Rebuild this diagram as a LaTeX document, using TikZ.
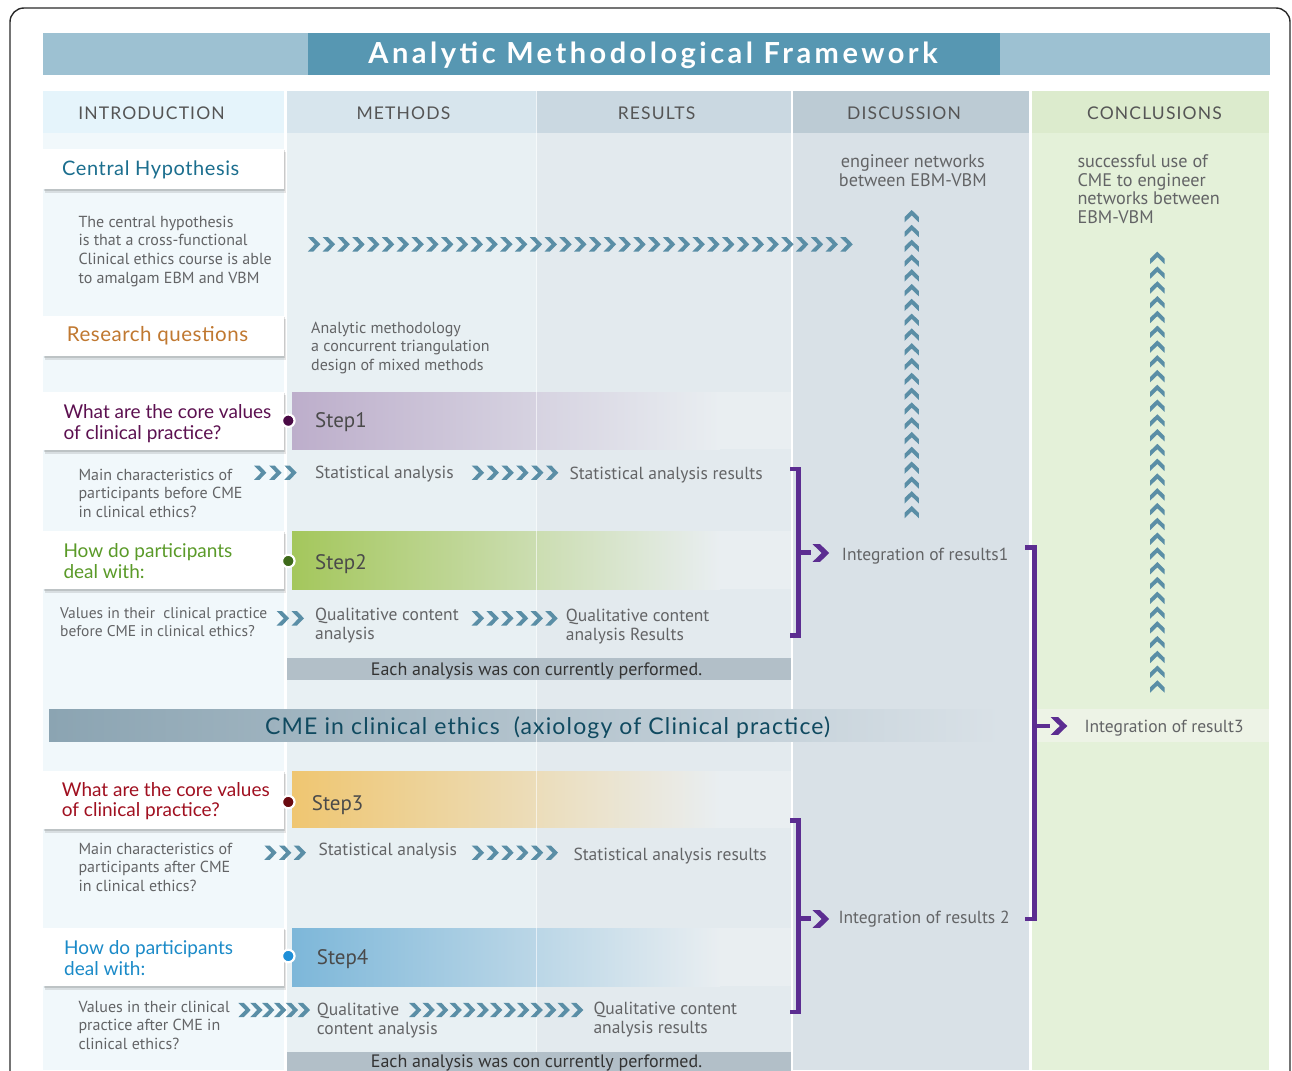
\documentclass[tikz,border=0pt]{standalone}
\usepackage{fontspec}
\setmainfont{PT Sans}
\newfontfamily\gill{Lato}
\newfontfamily\gillA{Lato}[LetterSpace=3]
\newfontfamily\gillH{Lato}[LetterSpace=6.5]
\newfontfamily\gillB{Lato}[LetterSpace=2.5]
\newfontfamily\gillT{Lato}[LetterSpace=5]
\newfontfamily\gillTT{Lato}[LetterSpace=12]
\usetikzlibrary{decorations.markings}
\definecolor{ttlA}{HTML}{9DC1D2}
\definecolor{ttlB}{HTML}{5797B2}
\definecolor{hI}{HTML}{E5F4FB}
\definecolor{hM}{HTML}{D7E5ED}
\definecolor{hR}{HTML}{CAD8E1}
\definecolor{hD}{HTML}{BCCBD4}
\definecolor{hC}{HTML}{DCEBCD}
\definecolor{bI}{HTML}{F1F8FB}
\definecolor{bM}{HTML}{E8F0F3}
\definecolor{bR}{HTML}{E3EAEE}
\definecolor{bD}{HTML}{D9E1E7}
\definecolor{bC}{HTML}{E4F1D9}
\definecolor{stripC}{HTML}{EDF3E6}
\definecolor{hdr}{HTML}{555555}
\definecolor{tgray}{HTML}{636466}
\definecolor{sgray}{HTML}{4A4A4A}
\definecolor{chevc}{HTML}{5A8EA6}
\definecolor{purp}{HTML}{5C2D91}
\definecolor{cH}{HTML}{1B6E8E}
\definecolor{cRQ}{HTML}{C07830}
\definecolor{cQa}{HTML}{5C1050}
\definecolor{cQb}{HTML}{5A9A28}
\definecolor{cQc}{HTML}{A01020}
\definecolor{cQd}{HTML}{1A8AC8}
\definecolor{dA}{HTML}{4A0A45}
\definecolor{dB}{HTML}{3E6A1A}
\definecolor{dC}{HTML}{6A0A10}
\definecolor{dD}{HTML}{1E8FD8}
\definecolor{sA}{HTML}{BDAECB}
\definecolor{sB}{HTML}{A4C75C}
\definecolor{sC}{HTML}{EFC671}
\definecolor{sD}{HTML}{7DB7D9}
\definecolor{barend}{HTML}{E9EEF1}
\definecolor{cmeL}{HTML}{8BA4B2}
\definecolor{cmeT}{HTML}{104A60}
\definecolor{gbar}{HTML}{B2BFC8}
\definecolor{frm}{HTML}{2A2A2A}
\newcommand\mlines[1]{\begin{tabular}[t]{@{}l@{}}#1\end{tabular}}
\newcommand\clines[1]{\begin{tabular}[t]{@{}c@{}}#1\end{tabular}}
\tikzset{
  txt/.style={anchor=base west, inner sep=0pt, text=tgray},
  fa/.style={font=\fontsize{16}{18.6}\selectfont},
  fb/.style={font=\fontsize{17.5}{19}\selectfont},
  hdrtxt/.style={anchor=base, inner sep=0pt, text=hdr, font=\gillH\fontsize{17.5}{19}\selectfont},
  qtxt/.style={anchor=base west, inner sep=0pt, font=\gill\fontsize{19}{20.7}\selectfont},
  steptxt/.style={anchor=base west, inner sep=0pt, text=sgray, font=\fontsize{21}{22}\selectfont},
  dotn/.style={circle, fill=#1, draw=white, line width=2.2pt, minimum size=12.5pt, inner sep=0pt},
  chain/.style={decoration={markings, mark=between positions 0 and 1 step #1 with {\fill[chevc] (-6.2,-7.2) -- (-0.8,-7.2) -- (6.2,0) -- (-0.8,7.2) -- (-6.2,7.2) -- (0.8,0) -- cycle;}}, decorate},
  brk/.style={draw=purp, line width=4.6pt, line cap=butt, line join=miter},
  pchev/.pic={\fill[purp] (0,-8.8) -- (7.5,-8.8) -- (16.6,0) -- (7.5,8.8) -- (0,8.8) -- (9.1,0) -- cycle;}
}
\begin{document}
\begin{tikzpicture}[x=1pt,y=-1pt]
\useasboundingbox (0,0) rectangle (1292,1070);
\fill[white] (0,0) rectangle (1292,1070);
\clip (0,0) rectangle (1292,1070);
% frame
\draw[frm, line width=1.4pt, rounded corners=14pt] (10,1100) -- (10,8) -- (1290,8) -- (1290,1100);
% title
\fill[ttlA] (43,33) rectangle (1270,75);
\fill[ttlB] (308,33) rectangle (1000,75);
\node[anchor=base, inner sep=0pt, text=white, font=\gillTT\bfseries\fontsize{29}{31}\selectfont] (title) at (653,63.3) {Analytic Methodological Framework};
% columns
\fill[hI] (43,91) rectangle (283.5,133);
\fill[bI] (43,133) rectangle (283.5,1070);
\fill[hM] (287,91) rectangle (536.6,133);
\fill[bM] (287,133) rectangle (536.6,1070);
\fill[hR] (536.6,91) rectangle (791,133);
\fill[bR] (536.6,133) rectangle (791,1070);
\fill[hD] (792.5,91) rectangle (1028.7,133);
\fill[bD] (792.5,133) rectangle (1028.7,1070);
\fill[hC] (1031.5,91) rectangle (1268.5,133);
\fill[bC] (1031.5,133) rectangle (1268.5,1070);
\node[hdrtxt] (hI) at (151.5,119.3) {INTRODUCTION};
\node[hdrtxt] (hM) at (403.4,119.3) {METHODS};
\node[hdrtxt] (hR) at (656.5,119.3) {RESULTS};
\node[hdrtxt] (hD) at (904,119.3) {DISCUSSION};
\node[hdrtxt] (hC) at (1154.5,119.3) {CONCLUSIONS};
% CME band and strip
\shade[left color=cmeL, right color=bD] (49,709) rectangle (1000,741.7);
\fill[stripC] (1031.5,709) rectangle (1268.5,741.7);
% step bars
\shade[left color=sA, right color=barend] (292,392.3) rectangle (720,449.3);
\fill[barend] (720,392.3) rectangle (791,449.3);
\shade[left color=sB, right color=barend] (292,531) rectangle (720,589);
\fill[barend] (720,531) rectangle (791,589);
\shade[left color=sC, right color=barend] (292,771) rectangle (720,827.7);
\fill[barend] (720,771) rectangle (791,827.7);
\shade[left color=sD, right color=barend] (292,928.3) rectangle (720,986);
\fill[barend] (720,928.3) rectangle (791,986);
\draw[white, line width=1.2pt, opacity=0.6] (536.6,91) -- (536.6,1070);
% grey bars
\fill[gbar] (287,657.7) rectangle (791,680);
\fill[gbar] (287,1052.3) rectangle (791,1080);
% left boxes
\foreach \a/\b in {149/189, 316/355.7, 392/450, 531/589, 771/828.7, 927.7/985.7} {
  \fill[black, opacity=0.10] (44.5,\a+2.5) rectangle (286,\b+4);
  \fill[black, opacity=0.12] (44,\a+1) rectangle (284.8,\b+2);
  \fill[white] (43,\a) rectangle (283.5,\b);
}
% texts intro column
\node[anchor=base west, inner sep=0pt, text=cH, font=\gillA\fontsize{20}{22}\selectfont] (ch) at (62,175) {Central Hypothesis};
\node[txt, fa] (hyp) at (78.3,227.3) {\mlines{The central hypothesis\\is that a cross-functional\\Clinical ethics course is able\\to amalgam EBM and VBM}};
\node[anchor=base west, inner sep=0pt, text=cRQ, font=\gillB\fontsize{20.5}{22}\selectfont] (rq) at (66.7,341.7) {Research questions};
\node[txt, fa] (meth) at (311,333.3) {\mlines{Analytic methodology\\a concurrent triangulation\\design of mixed methods}};
% step 1
\node[qtxt, text=cQa] (q1) at (63.3,418.3) {\mlines{What are the core values\\of clinical practice?}};
\node[dotn=dA] (d1) at (288.3,420.7) {};
\node[steptxt] (s1) at (315,427.3) {Step1};
\node[txt, fa] (mc1) at (78.3,480) {\mlines{Main characteristics of\\participants before CME\\in clinical ethics?}};
\node[txt, fb] (sa1) at (315,478.3) {Statistical analysis};
\node[txt, fb] (sr1) at (569.3,479) {Statistical analysis results};
% step 2
\node[qtxt, text=cQb] (q2) at (63.3,557.3) {\mlines{How do participants\\deal with:}};
\node[dotn=dB] (d2) at (288.3,561) {};
\node[steptxt] (s2) at (315,569.3) {Step2};
\node[txt, font=\fontsize{15.5}{18.4}\selectfont] (v1) at (60,618.3) {\mlines{Values in their\ \ clinical practice\\before CME in clinical ethics?}};
\node[txt, fb] (qa1) at (315,620.7) {\mlines{Qualitative content\\analysis}};
\node[txt, fb] (qr1) at (565.7,621.3) {\mlines{Qualitative content\\analysis Results}};
\node[anchor=base, inner sep=0pt, text=black!80, font=\fontsize{18}{19}\selectfont] (each1) at (536.5,675) {Each analysis was con currently performed.};
% integration 1
\node[txt, fb] (int1) at (841.7,560.7) {Integration of results1};
% CME band text
\node[anchor=base west, inner sep=0pt, text=cmeT, font=\gillT\fontsize{23}{25}\selectfont] (cme) at (265,734) {CME in clinical ethics\ \ (axiology of Clinical practice)};
\node[txt, fb] (int3) at (1084.3,732.3) {Integration of result3};
% step 3
\node[qtxt, text=cQc] (q3) at (61.7,796) {\mlines{What are the core values\\of clinical practice?}};
\node[dotn=dC] (d3) at (288.3,802) {};
\node[steptxt] (s3) at (311.7,810) {Step3};
\node[txt, fa] (mc2) at (78.3,854) {\mlines{Main characteristics of\\participants after CME\\in clinical ethics?}};
\node[txt, fb] (sa2) at (318.3,855.7) {Statistical analysis};
\node[txt, fb] (sr2) at (573.3,860.7) {Statistical analysis results};
\node[txt, fb] (int2) at (838.3,923.3) {Integration of results 2};
% step 4
\node[qtxt, text=cQd] (q4) at (64,954.3) {\mlines{How do participants\\deal with:}};
\node[dotn=dD] (d4) at (288.3,956) {};
\node[steptxt] (s4) at (316.7,964) {Step4};
\node[txt, fa] (v2) at (78.3,1012.3) {\mlines{Values in their clinical\\practice after CME in\\clinical ethics?}};
\node[txt, fb] (qa2) at (316.7,1015.7) {\mlines{Qualitative\\content analysis}};
\node[txt, fb] (qr2) at (593.3,1014) {\mlines{Qualitative content\\analysis results}};
\node[anchor=base, inner sep=0pt, text=black!80, font=\fontsize{18}{19}\selectfont] (each2) at (536.5,1067) {Each analysis was con currently performed.};
% discussion / conclusions
\node[anchor=base, inner sep=0pt, text=tgray, font=\fontsize{18.2}{19.4}\selectfont] (disc) at (912.8,167.3) {\clines{engineer networks\\between EBM-VBM}};
\node[txt, font=\fontsize{18.2}{18.7}\selectfont] (conc) at (1077.3,167.3) {\mlines{successful use of\\CME to engineer\\networks between\\EBM-VBM}};
% chevron chains
\coordinate (h0) at (314.1,244.3); \coordinate (h1) at (846.6,244.3);
\path[chain=14.79pt] (h0) -- ([xshift=1pt]h1);
\coordinate (v0) at (911.7,512.1); \coordinate (v1) at (911.7,216.2);
\path[chain=14.795pt] (v0) -- ([yshift=1pt]v1);
\coordinate (w0) at (1157.3,686.5); \coordinate (w1) at (1157.3,257.9);
\path[chain=14.78pt] (w0) -- ([yshift=1pt]w1);
\coordinate (a0) at (260.2,472.7); \coordinate (a1) at (290.5,472.7);
\path[chain=15.15pt] (a0) -- ([xshift=1pt]a1);
\coordinate (b0) at (477.9,472.7); \coordinate (b1) at (552.1,472.7);
\path[chain=14.84pt] (b0) -- ([xshift=1pt]b1);
\coordinate (c0) at (282.9,618.3); \coordinate (c1) at (297.8,618.3);
\path[chain=14.9pt] (c0) -- ([xshift=1pt]c1);
\coordinate (e0) at (477.9,618.3); \coordinate (e1) at (551.5,618.3);
\path[chain=14.72pt] (e0) -- ([xshift=1pt]e1);
\coordinate (f0) at (270.5,852.7); \coordinate (f1) at (299.8,852.7);
\path[chain=14.65pt] (f0) -- ([xshift=1pt]f1);
\coordinate (g0) at (477.9,852.7); \coordinate (g1) at (551.8,852.7);
\path[chain=14.78pt] (g0) -- ([xshift=1pt]g1);
\coordinate (k0) at (244.5,1010); \coordinate (k1) at (303.8,1010);
\path[chain=11.86pt] (k0) -- ([xshift=1pt]k1);
\coordinate (m0) at (415.2,1010); \coordinate (m1) at (577.1,1010);
\path[chain=13.49pt] (m0) -- ([xshift=1pt]m1);
% brackets
\draw[brk] (790,469) -- (798.5,469) -- (798.5,635.7) -- (790,635.7);
\draw[brk] (798.5,552.5) -- (811,552.5);
\pic at (812.6,553) {pchev};
\draw[brk] (790,820.3) -- (798.5,820.3) -- (798.5,1012) -- (790,1012);
\draw[brk] (798.5,918.7) -- (811,918.7);
\pic at (812.6,919) {pchev};
\draw[brk] (1025,547.7) -- (1034.5,547.7) -- (1034.5,919) -- (1025,919);
\draw[brk] (1034.5,726) -- (1049.5,726);
\pic at (1050.7,726) {pchev};
\end{tikzpicture}
\end{document}
